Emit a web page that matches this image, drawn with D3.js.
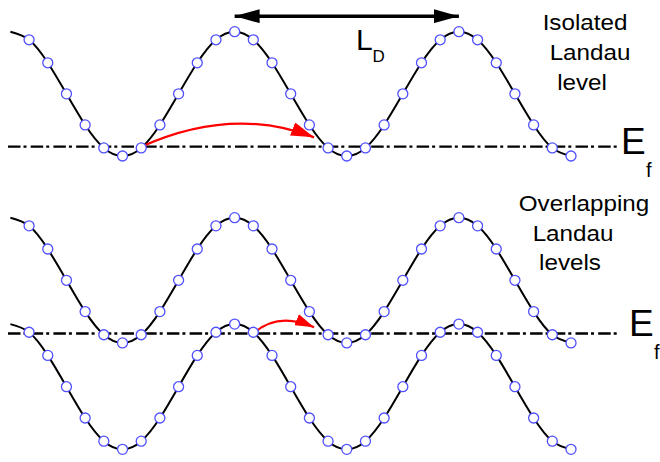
<!DOCTYPE html>
<html>
<head>
<meta charset="utf-8">
<script src="https://cdn.jsdelivr.net/npm/d3@7"></script>
<style>
  html, body { margin: 0; padding: 0; background: #fff; }
  svg { display: block; }
  text { font-family: "Liberation Sans", Arial, sans-serif; fill: #000; }
</style>
</head>
<body>
<svg id="chart" width="660" height="462"></svg>
<script>
// ---- data ----
// sample index along the real-space coordinate (0..30, 12 samples per period)
const sampleIndex = d3.range(0, 31);
// energy of the isolated Landau level at each sample
const isolatedLevel = [1.00,0.87,0.50,0.00,-0.50,-0.87,-1.00,-0.87,-0.50,0.00,0.50,0.87,
                       1.00,0.87,0.50,0.00,-0.50,-0.87,-1.00,-0.87,-0.50,0.00,0.50,0.87,
                       1.00,0.87,0.50,0.00,-0.50,-0.87,-1.00];
// overlapping levels: upper and lower level energies
const overlapUpper = [1.00,0.87,0.50,0.00,-0.50,-0.87,-1.00,-0.87,-0.50,0.00,0.50,0.87,
                      1.00,0.87,0.50,0.00,-0.50,-0.87,-1.00,-0.87,-0.50,0.00,0.50,0.87,
                      1.00,0.87,0.50,0.00,-0.50,-0.87,-1.00];
const overlapLower = [-0.70,-0.83,-1.20,-1.70,-2.20,-2.57,-2.70,-2.57,-2.20,-1.70,-1.20,-0.83,
                      -0.70,-0.83,-1.20,-1.70,-2.20,-2.57,-2.70,-2.57,-2.20,-1.70,-1.20,-0.83,
                      -0.70,-0.83,-1.20,-1.70,-2.20,-2.57,-2.70];
const fermiEnergy = -0.85;
// hops (sample index from -> to, energy at tip)
const topHop = { from: 7, to: 16.25, toE: -0.70, ctrlI: 11.9, ctrlE: -0.19 };
const bottomHop = { from: 13, to: 16.25, toE: -0.75, ctrlI: 14.3, ctrlE: -0.50 };
// L_D marker spans one period (peak to peak)
const periodSpan = [12, 24];
const periodArrowE = 1.25;
const labelsTop = ["Isolated", "Landau", "level"];
const labelsBottom = ["Overlapping", "Landau", "levels"];

// ---- scales ----
const svg = d3.select("#chart");
const x = d3.scaleLinear().domain([0, 30]).range([10.4, 571]);
const yTop = d3.scaleLinear().domain([-1, 1]).range([156, 31.7]);
const yBot = d3.scaleLinear().domain([-2.7, 1]).range([449.3, 217.7]);

// ---- defs: arrowheads ----
const defs = svg.append("defs");
function head(id, len, w, color) {
  defs.append("marker")
    .attr("id", id).attr("markerUnits", "userSpaceOnUse")
    .attr("viewBox", `0 ${-w/2} ${len} ${w}`)
    .attr("refX", len).attr("refY", 0)
    .attr("markerWidth", len).attr("markerHeight", w)
    .attr("orient", "auto-start-reverse")
    .append("path").attr("d", `M0,${-w/2}L${len},0L0,${w/2}Z`).attr("fill", color);
}
head("redBig", 23, 14, "#ff0000");
head("redSmall", 19, 12, "#ff0000");
head("blackHead", 25, 14, "#000");

// ---- drawing helpers ----
function fermiLine(y) {
  svg.append("line")
    .attr("x1", 8).attr("x2", 620)
    .attr("y1", y(fermiEnergy)).attr("y2", y(fermiEnergy))
    .attr("stroke", "#000").attr("stroke-width", 2.3)
    .attr("stroke-dasharray", "12.5,3,3,4.2");
}
function level(values, y) {
  const pts = sampleIndex.map(i => [i, values[i]]);
  svg.append("path")
    .attr("d", d3.line().x(d => x(d[0])).y(d => y(d[1])).curve(d3.curveNatural)(pts))
    .attr("fill", "none").attr("stroke", "#000").attr("stroke-width", 2);
  return pts;
}
function markers(pts, y) {
  svg.append("g").selectAll("circle")
    .data(pts.slice(1)).join("circle")
    .attr("cx", d => x(d[0])).attr("cy", d => y(d[1])).attr("r", 5)
    .attr("fill", "#fff").attr("stroke", "#5050ff").attr("stroke-width", 1.3);
}
function hop(h, y, headId) {
  const p = d3.path();
  p.moveTo(x(h.from), y(fermiEnergy));
  p.quadraticCurveTo(x(h.ctrlI), y(h.ctrlE), x(h.to), y(h.toE));
  svg.append("path").attr("d", p.toString())
    .attr("fill", "none").attr("stroke", "#ff0000").attr("stroke-width", 2.2)
    .attr("marker-end", `url(#${headId})`);
}
function efLabel(ex, ey, fx, fy) {
  svg.append("text").attr("x", ex).attr("y", ey).attr("font-size", 37).text("E");
  svg.append("text").attr("x", fx).attr("y", fy).attr("font-size", 20).text("f");
}
function block(lines, centers, baselines) {
  lines.forEach((t, i) => {
    svg.append("text")
      .attr("transform", `translate(${centers[i]},${baselines[i]}) scale(1.1,1)`)
      .attr("text-anchor", "middle").attr("font-size", 22).text(t);
  });
}

// ---- top panel: isolated Landau level ----
fermiLine(yTop);
const topPts = level(isolatedLevel, yTop);
hop(topHop, yTop, "redBig");
markers(topPts, yTop);

// L_D arrow
svg.append("line")
  .attr("x1", x(periodSpan[0])).attr("x2", x(periodSpan[1]))
  .attr("y1", yTop(periodArrowE)).attr("y2", yTop(periodArrowE))
  .attr("stroke", "#000").attr("stroke-width", 3.5)
  .attr("marker-start", "url(#blackHead)").attr("marker-end", "url(#blackHead)");
svg.append("text").attr("x", 356).attr("y", 50).attr("font-size", 30).text("L");
svg.append("text").attr("x", 372.5).attr("y", 61.7).attr("font-size", 17).text("D");

block(labelsTop, [585, 590, 582], [29.5, 60, 89.5]);
efLabel(621, 154.3, 646, 177);

// ---- bottom panel: overlapping Landau levels ----
fermiLine(yBot);
const upPts = level(overlapUpper, yBot);
const lowPts = level(overlapLower, yBot);
hop(bottomHop, yBot, "redSmall");
markers(upPts, yBot);
markers(lowPts, yBot);

block(labelsBottom, [584, 573, 570], [211, 241, 270]);
efLabel(629, 336, 654, 359);
</script>
</body>
</html>
